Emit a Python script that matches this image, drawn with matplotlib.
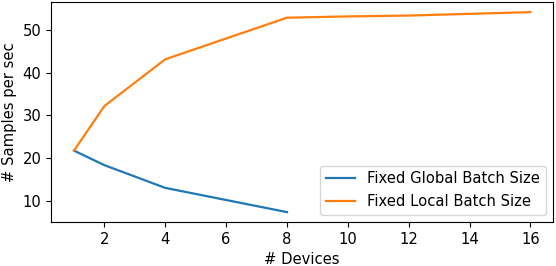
import matplotlib
matplotlib.use('Agg')
from matplotlib import pyplot as plt

# devices and throughput values
devices_global = [1, 2, 4, 8]
samples_global = [21.8, 18.4, 13.1, 7.45]

devices_local = [1, 2, 4, 8, 10, 12, 14, 16]
samples_local = [21.8, 32.2, 43.1, 52.8, 53.1, 53.3, 53.7, 54.1]

plt.rcParams['font.size'] = 10.6

fig = plt.figure(figsize=(5.56, 2.66), dpi=100)
ax = fig.add_axes([0.092, 0.165, 0.903, 0.827])
ax.plot(devices_global, samples_global, label='Fixed Global Batch Size', linewidth=1.6)
ax.plot(devices_local, samples_local, label='Fixed Local Batch Size', linewidth=1.6)
ax.set_xlabel('# Devices')
ax.set_ylabel('# Samples per sec')
ax.legend(loc='lower right')

fig.savefig('out.png', dpi=100)
